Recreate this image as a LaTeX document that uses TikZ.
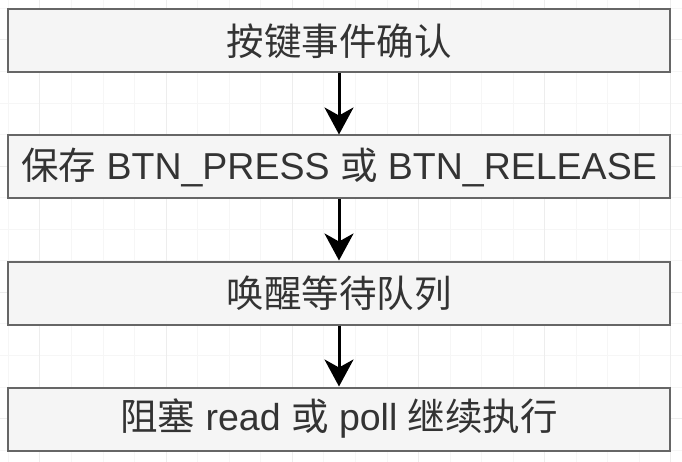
\documentclass[tikz,border=0pt]{standalone}
\usepackage{fontspec}
\setmainfont{Liberation Sans}
\newfontfamily\cjk{Noto Sans CJK SC}
\usetikzlibrary{arrows.meta}
\definecolor{boxfill}{HTML}{F5F5F5}
\definecolor{boxline}{HTML}{666666}
\definecolor{txt}{HTML}{333333}
\definecolor{gridminor}{HTML}{F6F6F6}
\definecolor{gridmajor}{HTML}{EDEDED}
\tikzset{
  stepbox/.style={draw=boxline, line width=2pt, fill=boxfill, rectangle,
    minimum width=662pt, minimum height=63pt, inner sep=0pt,
    text=txt, font=\fontsize{37.5}{45}\selectfont},
  flowarrow/.style={draw=black, line width=3pt,
    -{Stealth[length=27pt, width=29pt, inset=8pt]}},
  gridlineminor/.style={draw=gridminor, line width=1pt},
  gridlinemajor/.style={draw=gridmajor, line width=1pt}
}
\begin{document}
\begin{tikzpicture}[x=1pt, y=-1pt]
\useasboundingbox (0,0) rectangle (682,462);
\fill[white] (0,0) rectangle (682,462);
% grid
\foreach \k in {0,...,21} {
  \pgfmathsetmacro{\gx}{8.4+31.55*\k}
  \draw[gridlineminor] (\gx,0) -- (\gx,462);
}
\foreach \k in {0,...,14} {
  \pgfmathsetmacro{\gy}{8.4+31.55*\k}
  \draw[gridlineminor] (0,\gy) -- (682,\gy);
}
\foreach \k in {1,5,9,13,17,21} {
  \pgfmathsetmacro{\gx}{8.4+31.55*\k}
  \draw[gridlinemajor] (\gx,0) -- (\gx,462);
}
\foreach \k in {1,5,9,13} {
  \pgfmathsetmacro{\gy}{8.4+31.55*\k}
  \draw[gridlinemajor] (0,\gy) -- (682,\gy);
}
% boxes
\node[stepbox] (b1) at (339,41) {\cjk 按键事件确认};
\node[stepbox] (b2) at (339,167) {{\cjk 保存} BTN\_PRESS {\cjk 或} BTN\_RELEASE};
\node[stepbox] (b3) at (339,293) {\cjk 唤醒等待队列};
\node[stepbox] (b4) at (339,419) {{\cjk 阻塞} read {\cjk 或} poll {\cjk 继续执行}};
% arrows
\draw[flowarrow] (b1.south) -- (b2.north);
\draw[flowarrow] (b2.south) -- (b3.north);
\draw[flowarrow] (b3.south) -- (b4.north);
\end{tikzpicture}
\end{document}
